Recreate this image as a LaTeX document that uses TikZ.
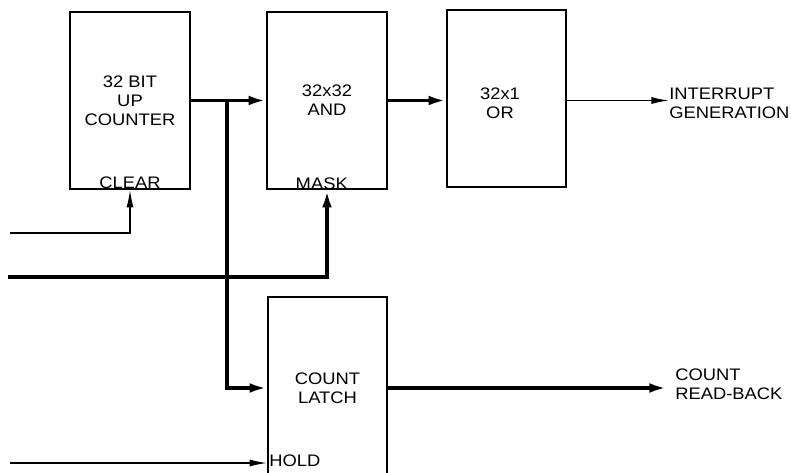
\documentclass[tikz,border=0pt]{standalone}
\usepackage{fontspec}
\setmainfont[FakeStretch=1.1]{Liberation Sans}
\usepackage{tikz}
\usetikzlibrary{arrows.meta, positioning, calc}
\tikzset{
  blockbox/.style={
    rectangle, draw=black, line width=0.9pt,
    minimum width=2.4cm, minimum height=3.54cm,
    align=center, font=\fontsize{9.5}{10.8}\selectfont
  },
  portlabel/.style={
    inner sep=1pt, font=\fontsize{9.5}{10.8}\selectfont
  },
  outlabel/.style={
    anchor=west, inner sep=0pt, align=left,
    font=\fontsize{9.5}{10.8}\selectfont
  },
  busline/.style={-{Latex[length=10pt,width=5.5pt]}, line width=2pt},
  ctlline/.style={-{Latex[length=10pt,width=4pt]}, line width=0.8pt},
}

\begin{document}
\begin{tikzpicture}[x=0.02cm, y=-0.02cm]
  \clip (0,0) rectangle (791,473);
  % blocks
  \node[blockbox] (cnt)   at (130,100.5) {32 BIT\\UP\\COUNTER};
  \node[blockbox] (and)   at (327,100.5) {32x32\\AND};
  \node[blockbox, minimum width=2.38cm] (or) at (506.5,98.5) {};
  \node[align=center, font=\fontsize{9.5}{10.8}\selectfont] (ortxt) at (500,103) {32x1\\OR};
  \node[blockbox, minimum width=2.38cm, minimum height=3.64cm] (latch) at (327.5,388) {COUNT\\LATCH};

  % port labels
  \node[portlabel, anchor=south, inner sep=0.5pt] (clr) at (cnt.south) {CLEAR};
  \node[portlabel, anchor=south, inner sep=0pt, xshift=-3pt] (msk) at (and.south) {MASK};
  \node[portlabel, anchor=west, inner sep=0pt] (hold) at (269,461) {HOLD};

  % outputs
  \node[outlabel] (intr) at (669,103) {INTERRUPT\\GENERATION};
  \node[outlabel] (rdbk) at (675,384) {COUNT\\READ-BACK};

  % inputs
  \coordinate (br)     at (227,100.5);
  \coordinate (clrin)  at (10,233);
  \coordinate (mskin)  at (8,277);
  \coordinate (holdin) at (10,463);

  \draw[busline] (cnt.east) -- (and.west);
  \draw[busline] (br) |- (latch.west);
  \draw[busline] (and.east) -- (and.east -| or.west);
  \draw[ctlline] (or.east |- and.east) -- (and.east -| intr.west);
  \draw[busline] (latch.east) -- (latch.east -| 667,0);
  \draw[ctlline] (clrin) -| (cnt.south);
  \draw[busline] (mskin) -| (and.south);
  \draw[ctlline] (holdin) -- (holdin -| latch.west);
\end{tikzpicture}
\end{document}
